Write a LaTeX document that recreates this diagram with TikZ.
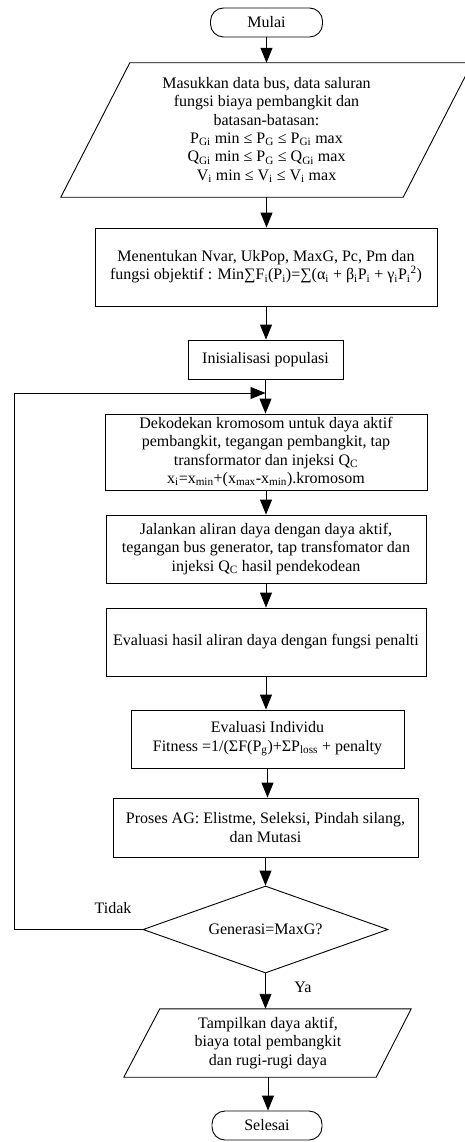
\documentclass[tikz,border=0pt]{standalone}
\usepackage{fontspec}
\setmainfont{Liberation Serif}
\usetikzlibrary{arrows.meta,shapes.geometric}
\tikzset{
  base/.style={align=center,inner sep=2pt,font=\fontsize{16}{18.3}\selectfont},
  procbox/.style={base,draw,line width=0.9pt},
  termbox/.style={base,draw,line width=0.9pt,rounded corners=13pt,minimum width=112pt,minimum height=29pt},
  iobox/.style={base},
  decbox/.style={base,draw,line width=0.9pt,diamond,aspect=2.8,inner sep=0pt,minimum width=245pt,minimum height=87pt},
  lbl/.style={font=\fontsize{16}{18.3}\selectfont,inner sep=0pt},
  flow/.style={line width=0.9pt,-{Triangle[length=15pt,width=12pt]}},
  plain/.style={line width=0.9pt}
}
\begin{document}
\begin{tikzpicture}[x=1pt,y=-1pt]
\useasboundingbox (0,0) rectangle (464,1142);

\node[termbox] (mulai) at (266.5,22.5) {Mulai};

\node[iobox,minimum width=273pt,minimum height=134pt] (in1) at (266.5,130) {Masukkan data bus, data saluran\\fungsi biaya pembangkit dan\\batasan-batasan:\\P\textsubscript{Gi} min ≤ P\textsubscript{G} ≤ P\textsubscript{Gi} max\\Q\textsubscript{Gi} min ≤ P\textsubscript{G} ≤ Q\textsubscript{Gi} max\\V\textsubscript{i} min ≤ V\textsubscript{i} ≤ V\textsubscript{i} max};
\draw[plain] (in1.north west) -- ([xshift=69pt]in1.north east) -- (in1.south east) -- ([xshift=-69pt]in1.south west) -- cycle;

\node[procbox,minimum width=342pt,minimum height=78pt] (b2) at (266,267) {Menentukan Nvar, UkPop, MaxG, Pc, Pm dan\\fungsi objektif : Min∑F\textsubscript{i}(P\textsubscript{i})=∑(α\textsubscript{i} + β\textsubscript{i}P\textsubscript{i} + γ\textsubscript{i}P\textsubscript{i}\textsuperscript{2})};

\node[procbox,minimum width=155pt,minimum height=39pt] (b3) at (265.5,359.5) {Inisialisasi populasi};

\node[procbox,minimum width=322pt,minimum height=76pt] (b4) at (266,452) {Dekodekan kromosom untuk daya aktif\\pembangkit, tegangan pembangkit, tap\\transformator dan injeksi Q\textsubscript{C}\\x\textsubscript{i}=x\textsubscript{min}+(x\textsubscript{max}-x\textsubscript{min}).kromosom};

\node[procbox,minimum width=320pt,minimum height=68pt] (b5) at (266,549) {Jalankan aliran daya dengan daya aktif,\\tegangan bus generator, tap transfomator dan\\injeksi Q\textsubscript{C} hasil pendekodean};

\node[procbox,minimum width=320pt,minimum height=68pt] (b6) at (266,642) {Evaluasi hasil aliran daya dengan fungsi penalti};

\node[procbox,minimum width=273pt,minimum height=58pt] (b7) at (267.5,739) {Evaluasi Individu\\Fitness =1/(ΣF(P\textsubscript{g})+ΣP\textsubscript{loss} + penalty};

\node[procbox,minimum width=305pt,minimum height=59pt] (b8) at (265.5,827.5) {Proses AG: Elistme, Seleksi, Pindah silang,\\dan Mutasi};

\node[decbox] (dec) at (265.5,929.5) {Generasi=MaxG?};

\node[iobox,minimum width=216pt,minimum height=68pt] (out) at (268,1043) {Tampilkan daya aktif,\\biaya total pembangkit\\dan rugi-rugi daya};
\draw[plain] (out.north west) -- ([xshift=35pt]out.north east) -- (out.south east) -- ([xshift=-36pt]out.south west) -- cycle;

\node[termbox,minimum width=110pt] (selesai) at (267,1125.5) {Selesai};

\node[lbl] (tidak) at (113,908) {Tidak};
\node[lbl] (ya) at (303,987) {Ya};

\coordinate (lp) at (14,393);

\draw[flow] (mulai.south) -- (mulai.south |- in1.north);
\draw[flow] (in1.south) -- (in1.south |- b2.north);
\draw[flow] (b2.south) -- (b2.south |- b3.north);
\draw[flow] (b3.south) -- (b3.south |- b4.north);
\draw[flow] (b4.south) -- (b4.south |- b5.north);
\draw[flow] (b5.south) -- (b5.south |- b6.north);
\draw[flow] (b6.south) -- (b6.south |- b7.north);
\draw[flow] (b7.south) -- (b7.south |- b8.north);
\draw[flow] (b8.south) -- (b8.south |- dec.north);
\draw[flow] (dec.south) -- (dec.south |- out.north);
\draw[flow] (out.south) -- (out.south |- selesai.north);
\draw[flow] (dec.west) -| (lp) -- (b3.south |- lp);
\end{tikzpicture}
\end{document}
